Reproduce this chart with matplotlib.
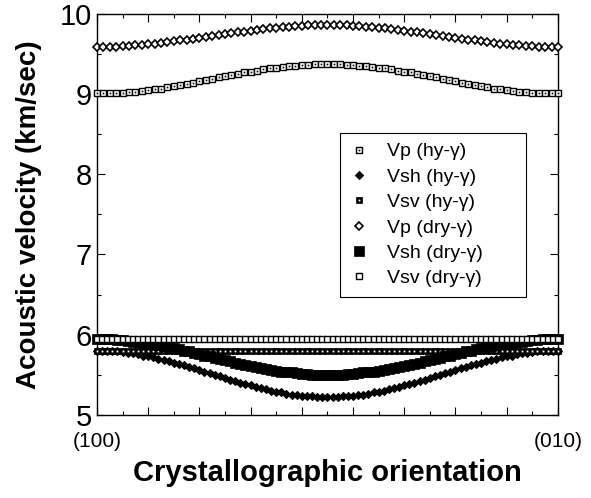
import numpy as np
import matplotlib.pyplot as plt

plt.rcParams['font.family'] = ['Liberation Sans', 'DejaVu Sans']

# orientation angle in degrees, from (100) to (010)
angle_p = np.arange(0, 90.01, 1.25)
angle_s = np.arange(0, 90.01, 1.0)

vp_dry = [9.59, 9.59, 9.59, 9.59, 9.60, 9.60, 9.61, 9.61, 9.62, 9.63, 9.64, 9.65, 9.66,
          9.67, 9.68, 9.69, 9.70, 9.71, 9.73, 9.74, 9.75, 9.76, 9.77, 9.78, 9.79, 9.80,
          9.81, 9.82, 9.83, 9.84, 9.84, 9.85, 9.85, 9.86, 9.86, 9.86, 9.86,
          9.86, 9.86, 9.86, 9.85, 9.85, 9.84, 9.84, 9.83, 9.82, 9.81, 9.80, 9.79, 9.78,
          9.77, 9.76, 9.75, 9.74, 9.73, 9.71, 9.70, 9.69, 9.68, 9.67, 9.66, 9.65, 9.64,
          9.63, 9.62, 9.61, 9.61, 9.60, 9.60, 9.59, 9.59, 9.59, 9.59]

vp_hy = [9.01, 9.01, 9.01, 9.02, 9.02, 9.03, 9.03, 9.04, 9.05, 9.06, 9.07, 9.09, 9.10,
         9.11, 9.13, 9.14, 9.16, 9.17, 9.19, 9.21, 9.22, 9.24, 9.25, 9.27, 9.28, 9.29,
         9.31, 9.32, 9.33, 9.34, 9.35, 9.35, 9.36, 9.36, 9.37, 9.37, 9.37,
         9.37, 9.37, 9.36, 9.36, 9.35, 9.35, 9.34, 9.33, 9.32, 9.31, 9.29, 9.28, 9.27,
         9.25, 9.24, 9.22, 9.21, 9.19, 9.17, 9.16, 9.14, 9.13, 9.11, 9.10, 9.09, 9.07,
         9.06, 9.05, 9.04, 9.03, 9.03, 9.02, 9.02, 9.01, 9.01, 9.01]

vsh_hy = [5.80, 5.80, 5.80, 5.79, 5.79, 5.78, 5.77, 5.77, 5.76, 5.74, 5.73, 5.72, 5.70,
          5.69, 5.67, 5.65, 5.64, 5.62, 5.60, 5.58, 5.56, 5.54, 5.52, 5.50, 5.48, 5.46,
          5.44, 5.42, 5.40, 5.38, 5.37, 5.35, 5.33, 5.32, 5.30, 5.29, 5.28, 5.26, 5.25,
          5.25, 5.24, 5.23, 5.23, 5.22, 5.22, 5.22,
          5.22, 5.22, 5.23, 5.23, 5.24, 5.25, 5.25, 5.26, 5.28, 5.29, 5.30, 5.32, 5.33,
          5.35, 5.37, 5.38, 5.40, 5.42, 5.44, 5.46, 5.48, 5.50, 5.52, 5.54, 5.56, 5.58,
          5.60, 5.62, 5.64, 5.65, 5.67, 5.69, 5.70, 5.72, 5.73, 5.74, 5.76, 5.77, 5.77,
          5.78, 5.79, 5.79, 5.80, 5.80, 5.80]

vsh_dry = [5.94, 5.94, 5.94, 5.94, 5.93, 5.93, 5.92, 5.91, 5.91, 5.90, 5.89, 5.88, 5.87,
           5.86, 5.84, 5.83, 5.82, 5.80, 5.79, 5.77, 5.76, 5.74, 5.73, 5.71, 5.70, 5.68,
           5.67, 5.65, 5.64, 5.62, 5.61, 5.60, 5.58, 5.57, 5.56, 5.55, 5.54, 5.53, 5.53,
           5.52, 5.51, 5.51, 5.50, 5.50, 5.50, 5.50,
           5.50, 5.50, 5.50, 5.51, 5.51, 5.52, 5.53, 5.53, 5.54, 5.55, 5.56, 5.57, 5.58,
           5.60, 5.61, 5.62, 5.64, 5.65, 5.67, 5.68, 5.70, 5.71, 5.73, 5.74, 5.76, 5.77,
           5.79, 5.80, 5.82, 5.83, 5.84, 5.86, 5.87, 5.88, 5.89, 5.90, 5.91, 5.91, 5.92,
           5.93, 5.93, 5.94, 5.94, 5.94, 5.94]

vsv_hy = [5.80] * len(angle_s)
vsv_dry = [5.94] * len(angle_s)

fig = plt.figure(figsize=(5.91, 4.98), dpi=100)
ax = fig.add_axes([0.164, 0.167, 0.78, 0.805])

# shear modes first, so the flat rows sit on top of the curves where they meet
kw = dict(ls='none', clip_on=False)
h_vsh_hy, = ax.plot(angle_s, vsh_hy, marker='D', ms=3.8, mfc='k', mec='k', mew=0.8,
                    zorder=2, **kw)
v1, = ax.plot(angle_s, vsv_hy, marker='s', ms=5, mfc='k', mec='k', mew=0.5, zorder=3, **kw)
v2, = ax.plot(angle_s, vsv_hy, marker='s', ms=1.3, mfc='w', mec='w', mew=0, zorder=3.1, **kw)
h_vsh_dry, = ax.plot(angle_s, vsh_dry, marker='s', ms=6.5, mfc='k', mec='k', mew=0.5,
                     zorder=4, **kw)
h_vsv_dry, = ax.plot(angle_s, vsv_dry, marker='s', ms=4.6, mfc='w', mec='k', mew=1.0,
                     zorder=5, **kw)
p1, = ax.plot(angle_p, vp_hy, marker='s', ms=5, mfc='w', mec='k', mew=1.0, zorder=6, **kw)
p2, = ax.plot(angle_p, vp_hy, marker='s', ms=1.2, mfc='k', mec='k', mew=0, zorder=6.1, **kw)
h_vp_dry, = ax.plot(angle_p, vp_dry, marker='D', ms=3.6, mfc='w', mec='k', mew=1.2,
                    zorder=6, **kw)

ax.set_xlim(0, 90)
ax.set_ylim(5, 10)
ax.set_xticks(np.arange(0, 91, 10))
ax.set_xticks(np.arange(0, 91, 5), minor=True)
ax.set_xticklabels(['(100)', '', '', '', '', '', '', '', '', '(010)'], fontsize=15)
ax.set_yticks([5, 6, 7, 8, 9, 10])
ax.set_yticks(np.arange(5, 10.01, 0.5), minor=True)
ax.tick_params(axis='y', labelsize=21)
ax.tick_params(which='both', direction='in', top=True, right=True, width=0.8)
ax.tick_params(which='major', length=6)
ax.tick_params(which='minor', length=3)
ax.tick_params(axis='x', pad=12)
for s in ax.spines.values():
    s.set_linewidth(1.0)

ax.set_ylabel('Acoustic velocity (km/sec)', fontsize=20, fontweight='bold', labelpad=13)
ax.set_xlabel('Crystallographic orientation', fontsize=21, fontweight='bold', labelpad=6)

handles = [(p1, p2), h_vsh_hy, (v1, v2), h_vp_dry, h_vsh_dry, h_vsv_dry]
labels = ['Vp (hy-γ)', 'Vsh (hy-γ)', 'Vsv (hy-γ)', 'Vp (dry-γ)', 'Vsh (dry-γ)', 'Vsv (dry-γ)']
leg = ax.legend(handles, labels, loc='upper left', bbox_to_anchor=(0.527, 0.292, 0.404, 0.411),
                mode='expand', borderaxespad=0, fontsize=14, handlelength=1.0,
                handletextpad=0.95, borderpad=0.5, labelspacing=0.4, fancybox=False,
                framealpha=1)
leg.get_frame().set_edgecolor('k')
leg.get_frame().set_linewidth(0.8)

plt.savefig('out.png', dpi=100)
